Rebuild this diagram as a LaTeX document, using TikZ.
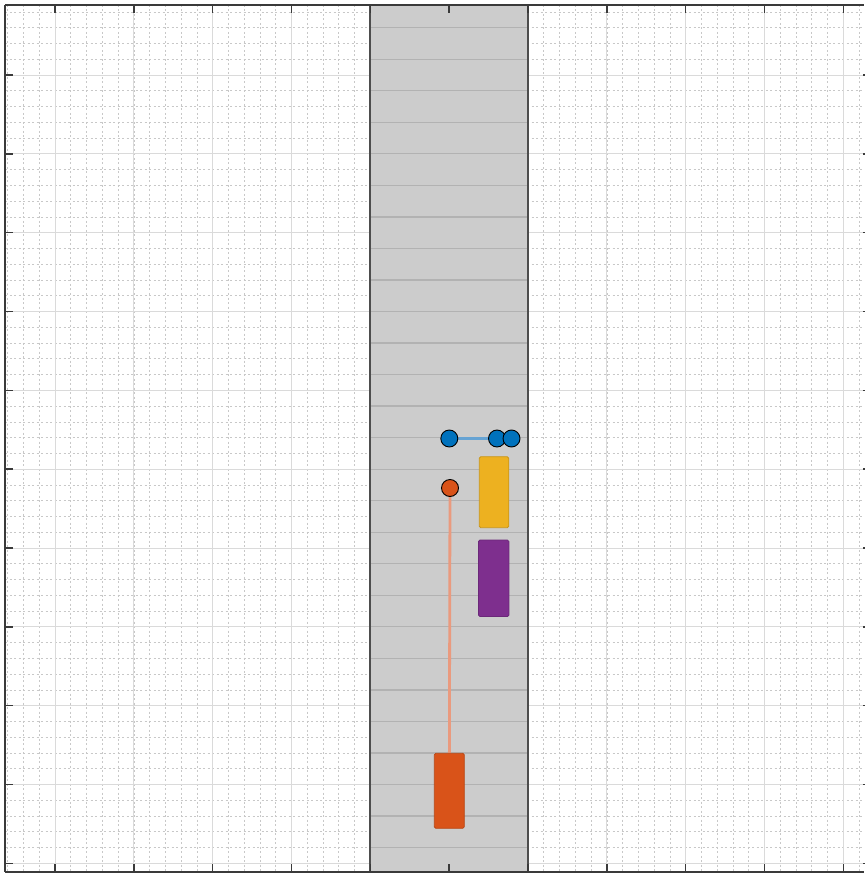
\documentclass[tikz,border=0pt]{standalone}
\pgfdeclarelayer{bg}
\pgfdeclarelayer{links}
\pgfsetlayers{bg,links,main}
\definecolor{mblue}{HTML}{0072BD}
\definecolor{morange}{HTML}{D95319}
\definecolor{myellow}{HTML}{EDB120}
\definecolor{mpurple}{HTML}{7E2F8E}
\definecolor{roadgray}{HTML}{CCCCCC}
\definecolor{stripegray}{HTML}{B2B2B2}
\definecolor{edgegray}{HTML}{4D4D4D}
\definecolor{axisgray}{HTML}{3A3A3A}
\definecolor{majorgrid}{HTML}{DADADA}
\definecolor{minorgrid}{HTML}{C8C8C8}
\definecolor{lblue}{HTML}{66A3D3}
\definecolor{lorange}{HTML}{EA9A7E}
\tikzset{
  minorline/.style={minorgrid, line width=0.6pt, dash pattern=on 2pt off 2.5pt},
  majorline/.style={majorgrid, line width=0.9pt},
  stripeline/.style={stripegray, line width=1.3pt},
  roadedge/.style={edgegray, line width=2pt},
  axisline/.style={axisgray, line width=1.8pt},
  tickline/.style={axisgray, line width=1.4pt},
  dot/.style={circle, draw=black, line width=0.9pt, minimum size=17pt, inner sep=0pt},
  vehicle/.style={rectangle, rounded corners=1.5pt, inner sep=0pt, line width=0.8pt},
  trail/.style={line width=2.8pt}
}
\begin{document}
\begin{tikzpicture}[x=1pt,y=-1pt]
\useasboundingbox (0,0) rectangle (864,874);
\begin{pgfonlayer}{bg}
  \fill[white] (0,0) rectangle (864,874);
  % minor grid
  \foreach \i in {0,...,54} \draw[minorline] ({7.7+15.766*\i},5) -- ({7.7+15.766*\i},872);
  \foreach \j in {0,...,54} \draw[minorline] (5,{11.9+15.766*\j}) -- (864,{11.9+15.766*\j});
  % major grid
  \foreach \k in {0,...,10} {
    \draw[majorline] ({55+78.83*\k},5) -- ({55+78.83*\k},872);
    \draw[majorline] (5,{75+78.83*\k}) -- (864,{75+78.83*\k});
  }
  % road
  \fill[roadgray] (370.3,5) rectangle (528,872);
  \foreach \m in {-4,...,22} \draw[stripeline] (370.3,{153.83+31.532*\m}) -- (528,{153.83+31.532*\m});
  \draw[roadedge] (370.3,5) -- (370.3,872);
  \draw[roadedge] (528,5) -- (528,872);
\end{pgfonlayer}
% vehicles
\node[vehicle, fill=myellow, draw=myellow!85!black, minimum width=29.5pt, minimum height=71pt] (c1) at (494,492.2) {};
\node[vehicle, fill=mpurple, draw=mpurple!85!black, minimum width=30.5pt, minimum height=76.5pt] (c2) at (493.7,578.3) {};
\node[vehicle, fill=morange, draw=morange!85!black, minimum width=30pt, minimum height=75pt] (c0) at (449.3,790.8) {};
% waypoints
\node[dot, fill=mblue] (b1) at (449.3,438.5) {};
\node[dot, fill=mblue] (b2) at (497,438.5) {};
\node[dot, fill=mblue] (b3) at (511.5,438.5) {};
\node[dot, fill=morange] (o1) at (450,488) {};
\begin{pgfonlayer}{links}
  \draw[trail, lblue] (b1.center) -- (b2.center);
  \draw[trail, lorange] (o1.center) -- (c0.center);
\end{pgfonlayer}
% axes box and ticks (right side lies just beyond the page edge)
\draw[axisline] (5,5) -- (864,5);
\draw[axisline] (5,872) -- (864,872);
\draw[axisline] (5,5) -- (5,872);
\foreach \k in {0,...,10} {
  \draw[tickline] ({55+78.83*\k},5) -- ({55+78.83*\k},13);
  \draw[tickline] ({55+78.83*\k},872) -- ({55+78.83*\k},864);
  \draw[tickline] (5,{75+78.83*\k}) -- (13,{75+78.83*\k});
  \draw[tickline] (864.5,{75+78.83*\k}) -- (862.5,{75+78.83*\k});
}
\end{tikzpicture}
\end{document}
